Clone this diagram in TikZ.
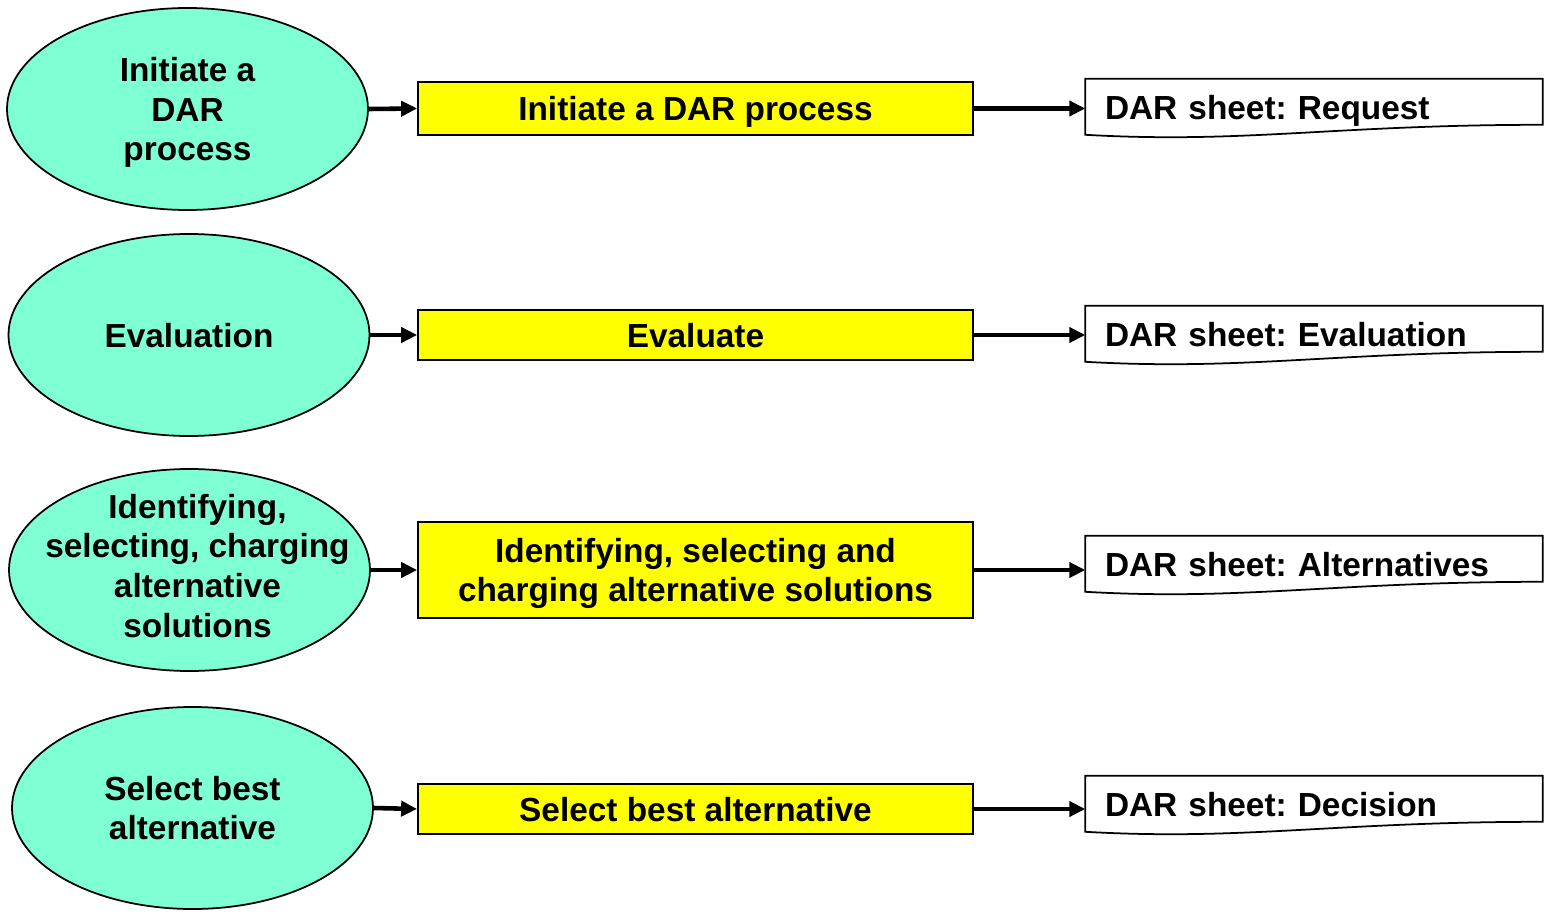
\documentclass[tikz,border=0pt]{standalone}
\usepackage{fontspec}
\setmainfont{Liberation Sans}
\frenchspacing
\usetikzlibrary{shapes.geometric}
\usetikzlibrary{arrows.meta}
\usetikzlibrary{calc}

\definecolor{aqua}{RGB}{127,255,212}
\definecolor{lemon}{RGB}{255,255,0}

\tikzset{
  bold/.style={font=\fontsize{9.5}{11.3}\selectfont\bfseries, text depth=0pt},
  stage/.style={ellipse, draw=black, line width=0.5pt, fill=aqua,
    minimum width=3.61cm, minimum height=2.02cm, inner sep=0pt,
    align=center, bold},
  stagetext/.style={inner sep=0pt, align=center, bold},
  task/.style={rectangle, draw=black, line width=0.5pt, fill=lemon,
    minimum width=5.55cm, minimum height=0.53cm, inner sep=0pt,
    align=center, bold},
  sheet/.style={rectangle, minimum width=4.56cm, minimum height=0.56cm,
    inner xsep=0.19cm, inner ysep=0pt, text width=4.18cm, align=left, bold},
  flow/.style={line width=1.3pt, -{Triangle[length=0.16cm, width=0.15cm]}}
}

\begin{document}
\begin{tikzpicture}
\useasboundingbox (0,0) rectangle (15.52,-9.15);
% stages on the left
\node[stage] (s1) at (1.875,-1.09) {Initiate a\\DAR\\process};
\node[stage] (s2) at (1.89,-3.35) {Evaluation};
\node[stage] (s3) at (1.895,-5.70) {};
\node[stagetext] (s3text) at (1.975,-5.655) {Identifying,\\selecting, charging\\alternative\\solutions};
\node[stage] (s4) at (1.925,-8.08) {Select best\\alternative};
% activities
\node[task] (t1) at (6.955,-1.085) {Initiate a DAR process};
\node[task, minimum height=0.50cm] (t2) at (6.955,-3.35) {Evaluate};
\node[task, minimum height=0.96cm] (t3) at (6.955,-5.70) {Identifying, selecting and\\charging alternative solutions};
\node[task, minimum height=0.50cm] (t4) at (6.955,-8.09) {Select best alternative};
% DAR sheets
\node[sheet] (d1) at (13.14,-1.075) {DAR sheet: Request};
\node[sheet] (d2) at (13.14,-3.345) {DAR sheet: Evaluation};
\node[sheet] (d3) at (13.14,-5.645) {DAR sheet: Alternatives};
\node[sheet] (d4) at (13.14,-8.045) {DAR sheet: Decision};
\foreach \d in {d1,d2,d3,d4}
  \draw[line width=0.5pt] (\d.north west) -- (\d.north east)
    -- ($(\d.north east)+(0,-0.46)$)
    .. controls ($(\d.north east)+(-2.1,-0.46)$) and ($(\d.north west)+(1.6,-0.65)$)
    .. ($(\d.north west)+(0,-0.56)$) -- cycle;
% connectors
\foreach \i in {1,...,4} {
  \draw[flow] (s\i.east) -- (t\i.west);
  \draw[flow] (t\i.east) -- (t\i.east -| d\i.west);
}
\end{tikzpicture}
\end{document}
